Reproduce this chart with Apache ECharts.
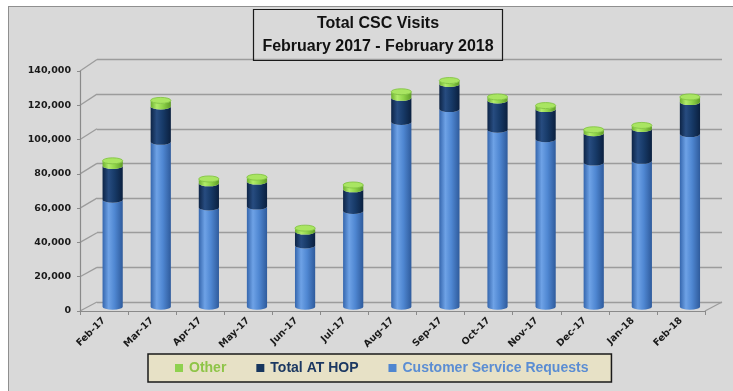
<!DOCTYPE html>
<html>
<head>
<meta charset="utf-8">
<script src="https://cdn.jsdelivr.net/npm/echarts@6/dist/echarts.min.js"></script>
<style>
  html, body { margin: 0; padding: 0; background: #ffffff; }
  #frame { position: absolute; left: 8px; top: 6px; width: 740px; height: 400px;
           background: #d9d9d9; border-left: 1px solid #8f8f8f; border-top: 1px solid #8f8f8f; }
  #chart { position: absolute; left: 0; top: 0; width: 733px; height: 391px; }
</style>
</head>
<body>
<div id="frame"></div>
<div id="chart"></div>
<script>
// Monthly CSC visits, stacked by visit type
const categories = ['Feb-17', 'Mar-17', 'Apr-17', 'May-17', 'Jun-17', 'Jul-17', 'Aug-17',
                    'Sep-17', 'Oct-17', 'Nov-17', 'Dec-17', 'Jan-18', 'Feb-18'];
const customerServiceRequests = [62000, 95500, 57500, 58000, 35500, 55500, 107000, 114500, 102500, 97000, 83500, 84500, 100000];
const totalAtHop = [19500, 20500, 14000, 14500, 8000, 12500, 14000, 14500, 17000, 17500, 17000, 18500, 18500];
const other = [3000, 3500, 2500, 2500, 2000, 2500, 3500, 2000, 2000, 2000, 2000, 2000, 3000];
const yMin = 0, yMax = 140000, yStep = 20000;

const FONT = 'DejaVu Sans';
const chart = echarts.init(document.getElementById('chart'), null, { renderer: 'canvas' });

// Build [index, base, top] triples for each stacked layer
const layers = [customerServiceRequests, totalAtHop, other];
const stacked = [];
const running = categories.map(() => 0);
layers.forEach(vals => {
  stacked.push(vals.map((v, i) => {
    const base = running[i];
    running[i] += v;
    return [i, base, running[i]];
  }));
});

const shades = [
  ['#3566ad', '#6ea2e6', '#4f87d2', '#2f5b9c'],   // light blue
  ['#0d2446', '#274c80', '#173a68', '#0b203f'],   // navy
  ['#6cb02e', '#b1ec6a', '#8fd44a', '#5f9c27']    // green
];

function cylinder(layerIdx, isTop) {
  return function (params, api) {
    const i = api.value(0);
    const pb = api.coord([i, api.value(1)]);
    const pt = api.coord([i, api.value(2)]);
    const w = api.size([1, 0])[0] * 0.42;
    const rx = w / 2, ry = 3;
    const l = pb[0] - rx, r = pb[0] + rx;
    const c = shades[layerIdx];
    const grad = new echarts.graphic.LinearGradient(0, 0, 1, 0, [
      { offset: 0, color: c[0] }, { offset: 0.3, color: c[1] },
      { offset: 0.6, color: c[2] }, { offset: 1, color: c[3] }
    ]);
    const children = [{
      type: 'path',
      shape: { pathData: `M${l} ${pt[1]} A${rx} ${ry} 0 0 0 ${r} ${pt[1]} L${r} ${pb[1]} A${rx} ${ry} 0 0 1 ${l} ${pb[1]} Z` },
      style: { fill: grad }
    }];
    if (isTop) {
      children.push({
        type: 'path',
        shape: { pathData: `M${l} ${pt[1]} A${rx} ${ry} 0 0 0 ${r} ${pt[1]} A${rx} ${ry} 0 0 0 ${l} ${pt[1]} Z` },
        style: { fill: '#a9e562', stroke: '#7cc23a', lineWidth: 0.8 }
      });
    }
    return { type: 'group', children };
  };
}

const seriesNames = ['Customer Service Requests', 'Total AT HOP', 'Other'];
const legendColors = ['#4f86d0', '#17365f', '#8fd14f'];
const legendText = ['#5b8dd3', '#1c3862', '#8ec447'];

const option = {
  animation: false,
  title: {
    text: 'Total CSC Visits\nFebruary 2017 - February 2018',
    left: 369, top: 9,
    textAlign: 'center',
    padding: [3, 9, 3, 9],
    borderColor: '#1a1a1a', borderWidth: 1.2,
    textStyle: { fontFamily: 'Liberation Sans', fontWeight: 'bold', fontSize: 16, lineHeight: 23, color: '#111' }
  },
  legend: {
    left: 148, top: 354,
    padding: [7, 23, 7, 27],
    itemWidth: 8, itemHeight: 8, itemGap: 30,
    icon: 'rect',
    backgroundColor: '#e7e1c6',
    borderColor: '#1a1a1a', borderWidth: 1.5,
    textStyle: { fontFamily: 'Liberation Sans', fontWeight: 'bold', fontSize: 14, padding: [0, 0, 0, 1] },
    data: [
      { name: 'Other', textStyle: { color: legendText[2] } },
      { name: 'Total AT HOP', textStyle: { color: legendText[1] } },
      { name: 'Customer Service Requests', textStyle: { color: legendText[0] } }
    ]
  },
  grid: [
    { left: 97, right: 11, top: 59.5, bottom: 89 },     // back wall
    { left: 80, right: 28, top: 71, bottom: 80 },       // front axes
    { left: 88.6, right: 19, top: 65, bottom: 84.3 }    // columns
  ],
  xAxis: [
    { gridIndex: 0, type: 'category', data: categories, show: false },
    {
      gridIndex: 1, type: 'category', data: categories,
      axisLine: { lineStyle: { color: '#8a8a8a', width: 1.2 } },
      axisTick: { show: true, length: 4, lineStyle: { color: '#8a8a8a' } },
      axisLabel: { rotate: 45, margin: 8, fontFamily: FONT, fontWeight: 'bold', fontSize: 9.5, color: '#1a1a1a', interval: 0 }
    },
    { gridIndex: 2, type: 'category', data: categories, show: false }
  ],
  yAxis: [
    {
      gridIndex: 0, type: 'value', min: yMin, max: yMax, interval: yStep,
      axisLine: { show: false }, axisTick: { show: false }, axisLabel: { show: false },
      splitLine: { lineStyle: { color: '#9c9c9c', width: 1.3 } }
    },
    {
      gridIndex: 1, type: 'value', min: yMin, max: yMax, interval: yStep,
      axisLine: { show: true, lineStyle: { color: '#8a8a8a', width: 1.2 } },
      axisTick: { show: true, length: 3, lineStyle: { color: '#8a8a8a' } },
      splitLine: { show: false },
      axisLabel: {
        margin: 9, fontFamily: FONT, fontWeight: 'bold', fontSize: 9.5, color: '#1a1a1a',
        formatter: v => v.toLocaleString('en-US')
      }
    },
    { gridIndex: 2, type: 'value', min: yMin, max: yMax, show: false }
  ],
  series: seriesNames.map((name, k) => ({
    name,
    type: 'custom',
    xAxisIndex: 2, yAxisIndex: 2,
    itemStyle: { color: legendColors[k] },
    encode: { x: 0, y: [1, 2] },
    renderItem: cylinder(k, k === 2),
    data: stacked[k]
  }))
};

chart.setOption(option);

// Side wall and floor edges joining the front axes to the back wall
const lines = [];
const lineStyle = { stroke: '#9c9c9c', lineWidth: 1.3 };
const frontLeft = chart.convertToPixel({ xAxisIndex: 1 }, 0) - chart.getModel().getComponent('xAxis', 1).axis.getBandWidth() / 2;
const backLeft = chart.convertToPixel({ xAxisIndex: 0 }, 0) - chart.getModel().getComponent('xAxis', 0).axis.getBandWidth() / 2;
for (let v = yMin; v <= yMax; v += yStep) {
  const yf = chart.convertToPixel({ yAxisIndex: 1 }, v);
  const yb = chart.convertToPixel({ yAxisIndex: 0 }, v);
  lines.push({ type: 'line', shape: { x1: frontLeft, y1: yf, x2: backLeft, y2: yb }, style: lineStyle, silent: true });
}
const last = categories.length - 1;
const frontRight = chart.convertToPixel({ xAxisIndex: 1 }, last) + chart.getModel().getComponent('xAxis', 1).axis.getBandWidth() / 2;
const backRight = chart.convertToPixel({ xAxisIndex: 0 }, last) + chart.getModel().getComponent('xAxis', 0).axis.getBandWidth() / 2;
lines.push({
  type: 'line',
  shape: { x1: frontRight, y1: chart.convertToPixel({ yAxisIndex: 1 }, 0), x2: backRight, y2: chart.convertToPixel({ yAxisIndex: 0 }, 0) },
  style: lineStyle, silent: true
});
chart.setOption({ graphic: { elements: lines } });
</script>
</body>
</html>
